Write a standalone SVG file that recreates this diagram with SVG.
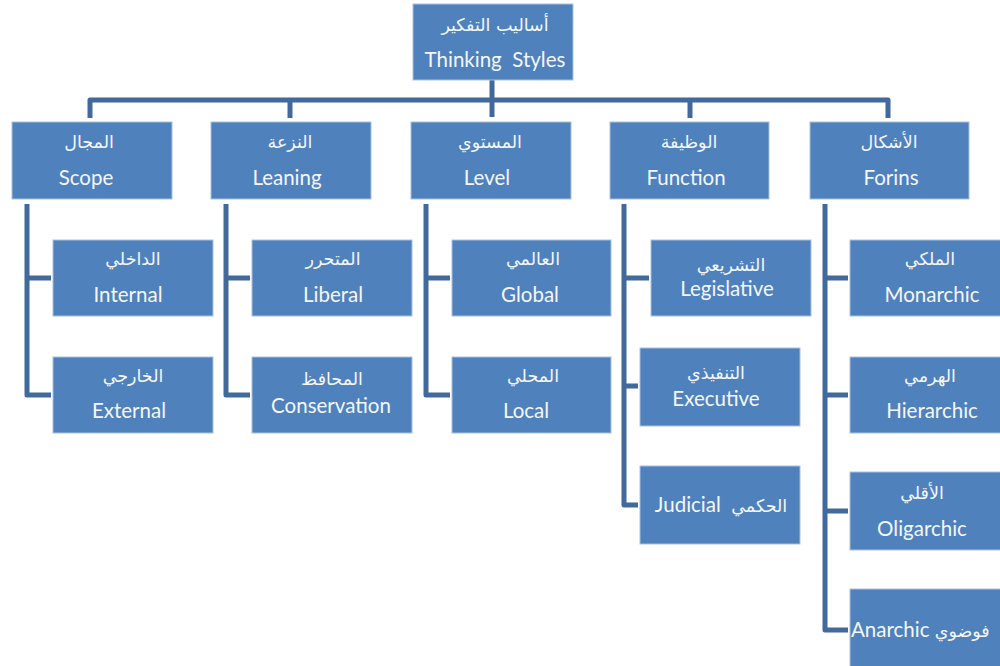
<svg xmlns="http://www.w3.org/2000/svg" width="1000" height="666" viewBox="0 0 1000 666">
<style>
.box{fill:#4F81BD;stroke:#A9C1DF;stroke-width:1}
.en{font-family:Lato,"Liberation Sans",sans-serif;font-size:20.5px;fill:#F4F7FB;text-anchor:middle}
.ar{font-family:"DejaVu Sans",sans-serif;font-size:17.5px;fill:#F4F7FB;text-anchor:middle}
.arx{font-family:"DejaVu Sans",sans-serif;font-size:17.5px}
.ln{fill:none;stroke:#41699C;stroke-width:5;stroke-linejoin:round;stroke-linecap:butt}
</style>
<rect width="1000" height="666" fill="#FFFFFF"/>
<g id="connectors">
<path class="ln" d="M492,80 V117"/>
<path class="ln" d="M90,118 V100 H888 V118"/>
<path class="ln" d="M290,100 V118"/>
<path class="ln" d="M690,100 V118"/>
<path class="ln" d="M27,204 V395 H51 M27,278 H51"/>
<path class="ln" d="M226,204 V395 H250 M226,278 H250"/>
<path class="ln" d="M426,204 V395 H450 M426,278 H450"/>
<path class="ln" d="M624,204 V505 H638 M624,278 H649 M624,386 H638"/>
<path class="ln" d="M825,204 V630 H848 M825,278 H848 M825,395 H848 M825,511 H848"/>
</g>
<g id="root">
<rect class="box" x="413" y="4" width="160" height="76"/>
<text class="ar" x="495" y="31">أساليب التفكير</text>
<text class="en" x="495" y="67" xml:space="preserve">Thinking  Styles</text>
</g>
<g id="scope">
<rect class="box" x="12" y="122" width="160" height="77"/>
<text class="ar" x="89" y="148">المجال</text>
<text class="en" x="86" y="185">Scope</text>
</g>
<g id="leaning">
<rect class="box" x="211" y="122" width="160" height="77"/>
<text class="ar" x="290" y="148">النزعة</text>
<text class="en" x="287" y="185">Leaning</text>
</g>
<g id="level">
<rect class="box" x="411" y="122" width="160" height="77"/>
<text class="ar" x="490" y="148">المستوي</text>
<text class="en" x="487" y="185">Level</text>
</g>
<g id="function">
<rect class="box" x="610" y="122" width="159" height="77"/>
<text class="ar" x="689" y="148">الوظيفة</text>
<text class="en" x="686" y="185">Function</text>
</g>
<g id="forins">
<rect class="box" x="810" y="122" width="159" height="77"/>
<text class="ar" x="889" y="148">الأشكال</text>
<text class="en" x="891" y="185">Forins</text>
</g>
<g id="internal">
<rect class="box" x="53" y="240" width="160" height="76"/>
<text class="ar" x="133" y="265">الداخلي</text>
<text class="en" x="128" y="302">Internal</text>
</g>
<g id="external">
<rect class="box" x="53" y="357" width="160" height="76"/>
<text class="ar" x="133" y="382">الخارجي</text>
<text class="en" x="129" y="418">External</text>
</g>
<g id="liberal">
<rect class="box" x="252" y="240" width="160" height="76"/>
<text class="ar" x="333" y="265">المتحرر</text>
<text class="en" x="333" y="302">Liberal</text>
</g>
<g id="conservation">
<rect class="box" x="252" y="357" width="160" height="76"/>
<text class="ar" x="332" y="385">المحافظ</text>
<text class="en" x="331" y="413">Conservation</text>
</g>
<g id="global">
<rect class="box" x="452" y="240" width="159" height="76"/>
<text class="ar" x="533" y="265">العالمي</text>
<text class="en" x="530" y="302">Global</text>
</g>
<g id="local">
<rect class="box" x="452" y="357" width="159" height="76"/>
<text class="ar" x="533" y="382">المحلي</text>
<text class="en" x="526" y="418">Local</text>
</g>
<g id="legislative">
<rect class="box" x="651" y="240" width="160" height="76"/>
<text class="ar" x="731" y="271">التشريعي</text>
<text class="en" x="727" y="296">Legislative</text>
</g>
<g id="executive">
<rect class="box" x="640" y="348" width="160" height="78"/>
<text class="ar" x="716" y="379">التنفيذي</text>
<text class="en" x="716" y="406">Executive</text>
</g>
<g id="judicial">
<rect class="box" x="640" y="466" width="160" height="78"/>
<text class="en" x="721" y="512" xml:space="preserve">Judicial  <tspan class="arx">الحكمي</tspan></text>
</g>
<g id="monarchic">
<rect class="box" x="850" y="240" width="160" height="76"/>
<text class="ar" x="930" y="265">الملكي</text>
<text class="en" x="932" y="302">Monarchic</text>
</g>
<g id="hierarchic">
<rect class="box" x="850" y="357" width="160" height="76"/>
<text class="ar" x="930" y="382">الهرمي</text>
<text class="en" x="932" y="418">Hierarchic</text>
</g>
<g id="oligarchic">
<rect class="box" x="850" y="472" width="160" height="78"/>
<text class="ar" x="922" y="499">الأقلي</text>
<text class="en" x="922" y="536">Oligarchic</text>
</g>
<g id="anarchic">
<rect class="box" x="850" y="589" width="160" height="80"/>
<text class="en" x="851" y="637" style="text-anchor:start" xml:space="preserve">Anarchic <tspan class="arx">فوضوي</tspan></text>
</g>
</svg>
